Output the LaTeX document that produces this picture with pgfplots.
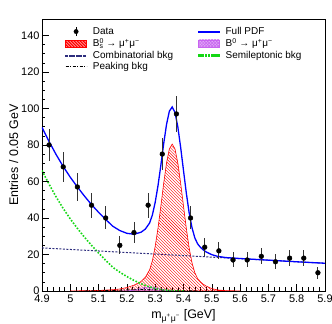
\documentclass[border=0pt]{standalone}
\usepackage{fontspec}
\setmainfont{Liberation Sans}
\usepackage{pgfplots}
\pgfplotsset{compat=1.18}
\usetikzlibrary{patterns}
\definecolor{combc}{RGB}{45,45,125}
\definecolor{semic}{RGB}{20,215,20}
\definecolor{b0c}{RGB}{200,100,240}

\pgfplotstableread{
x y e
4.925 80 8.9
4.975 68 8.2
5.025 57 7.5
5.075 47 6.9
5.125 40 6.3
5.175 25 5.0
5.225 32 5.7
5.275 47 6.9
5.325 75 8.7
5.375 97 9.8
5.425 40 6.3
5.475 24 4.9
5.525 22 4.7
5.575 17 4.1
5.625 17 4.1
5.675 19 4.4
5.725 16 4.0
5.775 18 4.2
5.825 18 4.2
5.875 10 3.2
}\datatab

\pgfplotstableread{
x y
4.900 89.6
4.925 81.9
4.950 74.7
4.975 68.2
5.000 62.3
5.025 57.0
5.050 52.0
5.075 47.3
5.100 43.1
5.125 39.2
5.150 35.5
5.175 33.1
5.200 31.6
5.225 31.1
5.250 32.2
5.265 33.9
5.280 37.2
5.290 41.6
5.300 48.6
5.310 57.8
5.320 68.9
5.330 80.7
5.340 91.2
5.350 98.5
5.360 100.8
5.370 97.8
5.380 89.9
5.390 78.6
5.400 66.0
5.410 53.6
5.420 42.8
5.430 34.7
5.440 29.1
5.450 25.8
5.460 23.9
5.470 22.5
5.480 21.4
5.500 19.9
5.520 19.0
5.550 18.3
5.600 17.8
5.700 16.9
5.800 16.0
5.900 15.2
}\fulltab

\pgfplotstableread{
x y
5.00 0.05
5.05 0.15
5.10 0.3
5.15 0.7
5.175 1.1
5.20 1.9
5.225 3.2
5.25 5.2
5.265 7.5
5.28 11.5
5.29 16.5
5.30 24.5
5.31 34.5
5.32 46.5
5.33 59.0
5.34 70.1
5.35 77.8
5.36 80.5
5.37 77.8
5.38 70.1
5.39 59.0
5.40 46.5
5.41 34.3
5.42 23.6
5.43 15.5
5.44 10.0
5.45 6.8
5.46 5.0
5.47 3.7
5.48 2.7
5.50 1.3
5.52 0.6
5.55 0.2
5.60 0.05
}\bstab

\pgfplotstableread{
x y
5.18 0.02
5.20 0.12
5.22 0.44
5.24 1.1
5.26 1.9
5.28 2.3
5.30 1.9
5.32 1.1
5.34 0.44
5.36 0.12
5.38 0.02
}\bztab

\pgfplotstableread{
x y
4.900 66.0
4.925 58.5
4.950 51.5
4.975 45.2
5.000 39.5
5.025 34.3
5.050 29.5
5.075 25.0
5.100 20.8
5.125 16.8
5.150 13.0
5.175 10.3
5.200 7.9
5.225 5.8
5.250 4.0
5.275 2.5
5.300 1.4
5.325 0.7
5.350 0.3
5.375 0.1
5.400 0.0
}\semitab

\pgfplotstableread{
x y
4.90 23.6
5.90 15.2
}\combtab

\pgfplotstableread{
x y
5.05 0.05
5.10 0.1
5.15 0.3
5.20 0.6
5.25 0.8
5.30 0.6
5.35 0.3
5.40 0.1
5.45 0.05
}\peaktab

\begin{document}
\begin{tikzpicture}
\begin{axis}[
  scale only axis, width=283bp, height=272bp,
  xmin=4.9, xmax=5.9, ymin=0, ymax=149,
  xtick={4.9,5.0,5.1,5.2,5.3,5.4,5.5,5.6,5.7,5.8,5.9},
  minor x tick num=4,
  ytick={0,20,40,60,80,100,120,140}, minor y tick num=3,
  xtick pos=bottom, ytick pos=left, tick align=inside,
  major tick length=7bp, minor tick length=3.5bp,
  tick style={black, line width=0.5pt},
  axis line style={black, line width=0.6pt},
  ticklabel style={font=\fontsize{11}{12}\selectfont},
  yticklabel style={xshift=1bp},
  /pgf/number format/assume math mode=true,
  xlabel={m\textsubscript{μ\textsuperscript{+}μ\textsuperscript{−}} [GeV]},
  ylabel={Entries / 0.05 GeV},
  ylabel shift=-4bp,
  label style={font=\fontsize{12.5}{13}\selectfont},
  legend columns=2, legend cell align=left,
  legend style={at={(rel axis cs:0,1)}, anchor=north west, xshift=20bp, yshift=-4bp,
    draw=none, fill=none, font=\fontsize{10}{11}\selectfont, row sep=-1.5bp,
    /tikz/every odd column/.append style={column sep=4bp},
    /tikz/every even column/.append style={column sep=23bp}},
  clip=true,
]
% Bs signal
\addplot[draw=red, line width=0.6pt, pattern=north west lines, pattern color=red, forget plot] table[x=x,y=y]{\bstab} \closedcycle;
% B0
\addplot[draw=b0c, line width=0.5pt, pattern=crosshatch, pattern color=b0c, forget plot] table[x=x,y=y]{\bztab} \closedcycle;
% peaking
\addplot[black, line width=0.8pt, dash pattern=on 3bp off 1.5bp on 1bp off 1.5bp, forget plot] table[x=x,y=y]{\peaktab};
% semileptonic
\addplot[semic, line width=1.6pt, dash pattern=on 1.6bp off 1.6bp, forget plot] table[x=x,y=y]{\semitab};
% combinatorial
\addplot[combc, line width=1pt, dash pattern=on 2bp off 1.5bp, forget plot] table[x=x,y=y]{\combtab};
% full pdf
\addplot[blue, line width=1.3pt, forget plot] table[x=x,y=y]{\fulltab};
% data
\addplot[black, only marks, mark=*, mark size=2.4bp, forget plot,
  error bars/.cd, y dir=both, y explicit, error mark=none,
  error bar style={line width=0.9pt, black!80}] table[x=x,y=y,y error=e]{\datatab};

\addlegendimage{black, legend image code/.code={\draw[black, line width=0.8pt] (10.5bp,-4.5bp)--(10.5bp,4.5bp); \fill[black] (10.5bp,0bp) circle (2.2bp);}}
\addlegendentry{Data}
\addlegendimage{blue, legend image code/.code={\fill[blue] (0bp,-0.7bp) rectangle (21bp,0.7bp);}}
\addlegendentry{Full PDF}
\addlegendimage{red, legend image code/.code={\fill[red] (0bp,-3.5bp) rectangle (21bp,3.5bp); \fill[pattern=north west lines, pattern color=white] (0bp,-3.5bp) rectangle (21bp,3.5bp);}}
\addlegendentry{B\rlap{\textsuperscript{0}}\textsubscript{s} → μ\textsuperscript{+}μ\textsuperscript{−}}
\addlegendimage{b0c, legend image code/.code={\fill[b0c!55] (0bp,-3.5bp) rectangle (21bp,3.5bp); \fill[pattern=crosshatch, pattern color=b0c] (0bp,-3.5bp) rectangle (21bp,3.5bp);}}
\addlegendentry{B\textsuperscript{0} → μ\textsuperscript{+}μ\textsuperscript{−}}
\addlegendimage{combc, legend image code/.code={\foreach \i in {0,1,2,3,4,5} {\fill[combc] (\i*3.5bp,-0.5bp) rectangle (\i*3.5bp+2bp,0.5bp);}}}
\addlegendentry{Combinatorial bkg}
\addlegendimage{semic, legend image code/.code={\foreach \i in {0,1,2,3,4,5,6} {\fill[semic] (\i*3.2bp,-0.8bp) rectangle (\i*3.2bp+1.6bp,0.8bp);}}}
\addlegendentry{Semileptonic bkg}
\addlegendimage{black, legend image code/.code={\draw[black, line width=0.8pt, dash pattern=on 3bp off 1.5bp on 1bp off 1.5bp] (0bp,0bp)--(21bp,0bp);}}
\addlegendentry{Peaking bkg}

\node[anchor=base west, font=\bfseries\fontsize{12}{12}\selectfont, inner sep=0pt] at ([yshift=2bp]rel axis cs:0,1) {CMS};
\node[anchor=base west, font=\itshape\fontsize{9}{9}\selectfont, inner sep=0pt] at ([yshift=2bp,xshift=30bp]rel axis cs:0,1) {Preliminary};
\node[anchor=base east, font=\fontsize{9}{9}\selectfont, inner sep=0pt] at ([yshift=2bp,xshift=-3bp]rel axis cs:1,1) {140 fb\textsuperscript{-1}(13 TeV)};
\end{axis}
\pgfresetboundingbox
\path[use as bounding box] (current axis.south west) ++(-42bp,-33bp) rectangle ([xshift=7bp,yshift=19bp]current axis.north east);
\end{tikzpicture}
\end{document}
